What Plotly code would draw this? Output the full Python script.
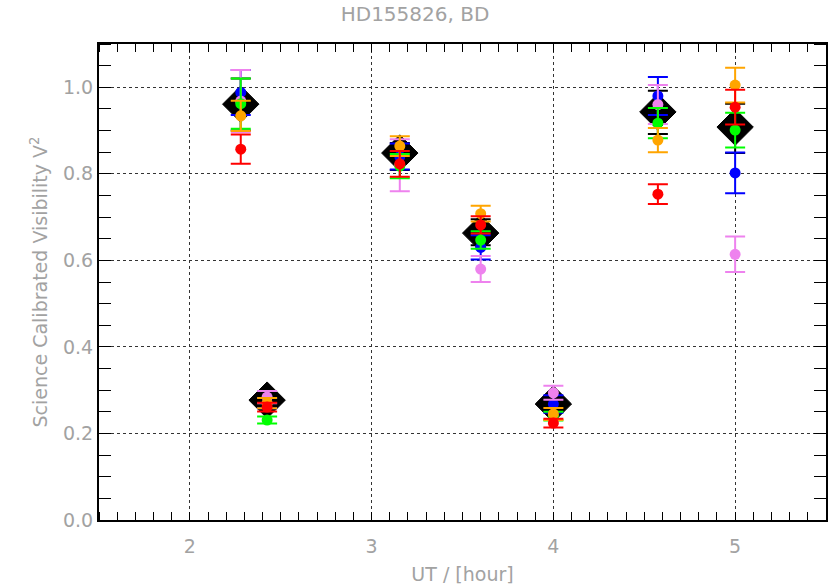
import plotly.graph_objects as go

times = [2.28, 2.425, 3.155, 3.60, 4.0, 4.575, 5.0]

blue = [0.988, 0.270, 0.840, 0.630, 0.268, 0.980, 0.802]
blue_err = [0.052, 0.012, 0.030, 0.028, 0.020, 0.044, 0.047]
black = [0.960, 0.275, 0.840, 0.665, 0.265, 0.942, 0.905]
black_err = [0.060, 0.012, 0.031, 0.030, 0.015, 0.050, 0.057]
violet = [0.968, 0.284, 0.820, 0.580, 0.294, 0.960, 0.614]
violet_err = [0.072, 0.014, 0.060, 0.030, 0.016, 0.045, 0.041]
green = [0.962, 0.231, 0.818, 0.647, 0.240, 0.917, 0.901]
green_err = [0.058, 0.008, 0.028, 0.020, 0.010, 0.035, 0.040]
orange = [0.934, 0.270, 0.864, 0.708, 0.245, 0.878, 1.005]
orange_err = [0.035, 0.012, 0.023, 0.018, 0.014, 0.028, 0.040]
red = [0.857, 0.261, 0.823, 0.682, 0.224, 0.753, 0.954]
red_err = [0.034, 0.010, 0.030, 0.020, 0.010, 0.023, 0.040]
mean = [0.961, 0.277, 0.848, 0.663, 0.268, 0.943, 0.908]

x_ticks = [2, 3, 4, 5]
y_ticks = [0.0, 0.2, 0.4, 0.6, 0.8, 1.0]

series = [
    ("black", black, black_err, "#000000"),
    ("blue", blue, blue_err, "#0000ff"),
    ("violet", violet, violet_err, "#ee82ee"),
    ("green", green, green_err, "#00ff00"),
    ("orange", orange, orange_err, "#ffa500"),
    ("red", red, red_err, "#ff0000"),
]

fig = go.Figure()

fig.add_trace(go.Scatter(
    x=times, y=mean, mode="markers",
    marker=dict(symbol="diamond", size=28, color="black",
                line=dict(color="black", width=1)),
    showlegend=False, hoverinfo="skip"))

for name, vals, errs, col in series:
    fig.add_trace(go.Scatter(
        x=times, y=vals, mode="markers", name=name,
        marker=dict(symbol="circle", size=11, color=col),
        error_y=dict(type="data", array=errs, visible=True,
                     color=col, thickness=2, width=10),
        showlegend=False))

grey = "#a2a2a2"
font = "DejaVu Sans"

fig.update_layout(
    width=830, height=586,
    margin=dict(l=99, r=2, t=44, b=66),
    plot_bgcolor="white", paper_bgcolor="white",
    title=dict(text="HD155826, BD", x=0.5, xref="container", xanchor="center",
               y=0.976, yref="container", yanchor="middle",
               font=dict(family=font, size=20, color=grey)),
    xaxis=dict(
        range=[1.5, 5.5], tickvals=x_ticks, ticktext=[str(v) for v in x_ticks],
        showgrid=True, gridcolor="#333333", griddash="dot", gridwidth=1,
        ticks="", showline=True, linecolor="black", linewidth=2, mirror="allticks",
        zeroline=False, ticklabelstandoff=8,
        minor=dict(dtick=0.1, ticks="inside", ticklen=8, tickcolor="black",
                   tickwidth=1, showgrid=False),
        tickfont=dict(family=font, size=19, color=grey),
        title=dict(text="UT / [hour]", font=dict(family=font, size=19, color=grey),
                   standoff=12),
    ),
    yaxis=dict(
        range=[0, 1.1], tickvals=y_ticks, ticktext=["%.1f" % v for v in y_ticks],
        showgrid=True, gridcolor="#333333", griddash="dot", gridwidth=1,
        ticks="", showline=True, linecolor="black", linewidth=2, mirror="allticks",
        zeroline=False,
        minor=dict(dtick=0.05, ticks="inside", ticklen=12, tickcolor="black",
                   tickwidth=1, showgrid=False),
        tickfont=dict(family=font, size=19, color=grey),
        title=dict(text="Science Calibrated Visibility V<sup>2</sup>",
                   font=dict(family=font, size=19, color=grey), standoff=10),
    ),
)

fig.write_html("out.html")
